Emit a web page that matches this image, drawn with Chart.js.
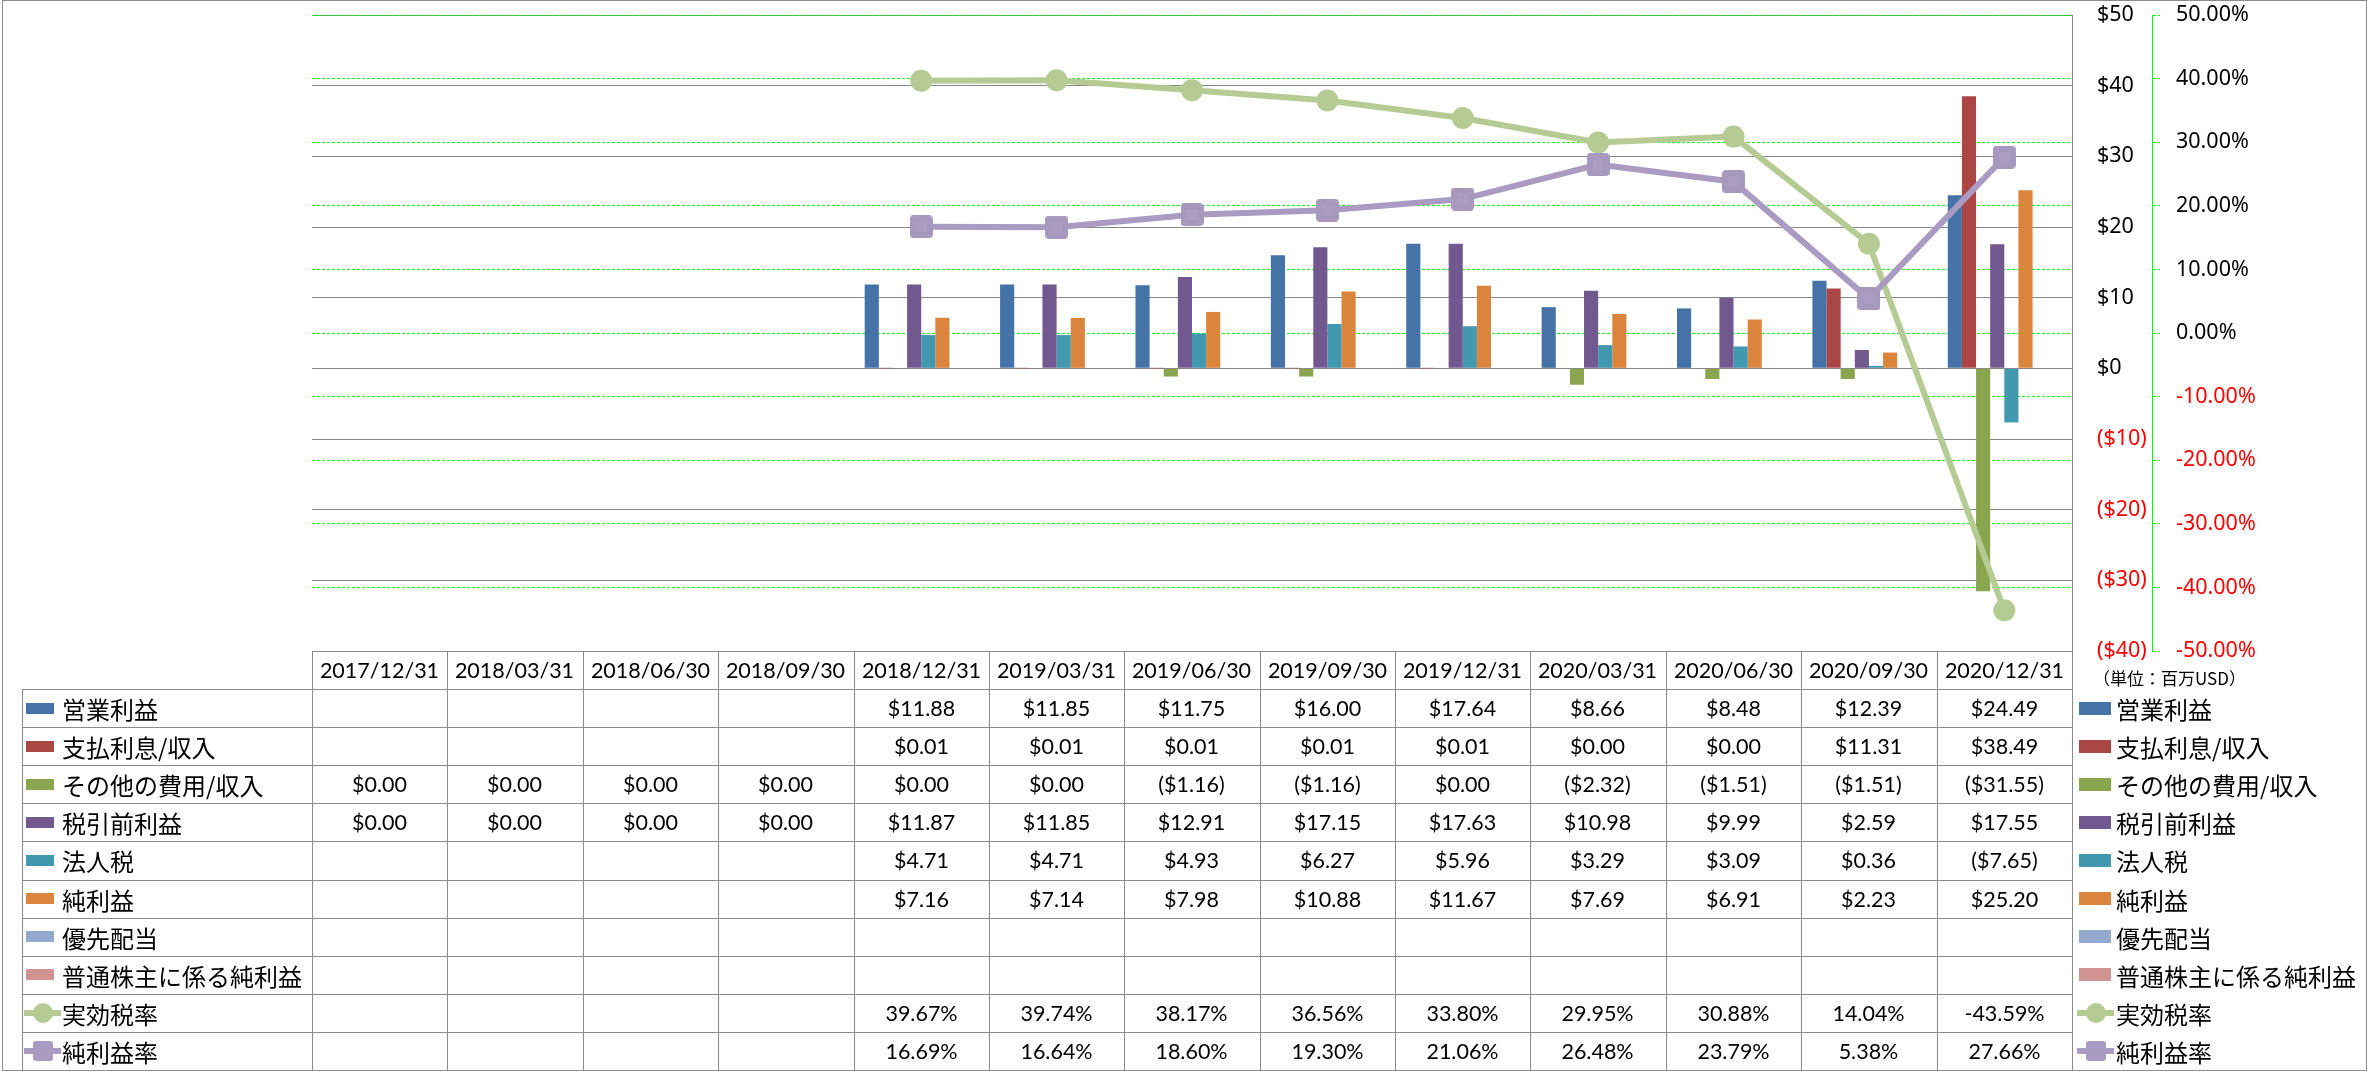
<!DOCTYPE html>
<html lang="ja">
<head>
<meta charset="utf-8">
<title>損益推移</title>
<script src="https://cdn.jsdelivr.net/npm/chart.js@4.4.1/dist/chart.umd.min.js"></script>
<style>
    html, body { margin: 0; padding: 0; background: #fff; }
    #wrap { position: relative; width: 2367px; height: 1071px; overflow: hidden; background: #fff; }
    #chart { position: absolute; left: 0; top: 0; }
    #frame { position: absolute; left: 2px; top: 0; width: 2365px; height: 1071px; border: 1px solid #8c8c8c; box-sizing: border-box; pointer-events: none; }
    .ln { position: absolute; background: #8a8a8a; }
    .txt { position: absolute; display: flex; align-items: center; white-space: nowrap; color: #000; }
    .num { justify-content: center; font-family: Lato, "Noto Sans", sans-serif; font-size: 21.5px; }
    .lab { font-family: "Noto Sans CJK JP", sans-serif; font-size: 24px; }
    .key { position: absolute; }
    #unit { position: absolute; left: 2093px; top: 666px; font-family: "Noto Sans CJK JP", sans-serif; font-size: 17px; line-height: 24px; white-space: nowrap; }
</style>
</head>
<body>
<div id="wrap">
    <canvas id="chart" width="2367" height="1071"></canvas>
    <div id="table"></div>
    <div id="unit">（単位：百万USD）</div>
    <div id="frame"></div>
</div>
<script>
// ── Data (百万USD) ───────────────────────────────────────────
const categories = ['2017/12/31', '2018/03/31', '2018/06/30', '2018/09/30', '2018/12/31', '2019/03/31',
    '2019/06/30', '2019/09/30', '2019/12/31', '2020/03/31', '2020/06/30', '2020/09/30', '2020/12/31'];

const operatingIncome    = [null, null, null, null, 11.88, 11.85, 11.75, 16.00, 17.64, 8.66, 8.48, 12.39, 24.49];
const interestExpense    = [null, null, null, null, 0.01, 0.01, 0.01, 0.01, 0.01, 0.00, 0.00, 11.31, 38.49];
const otherExpense       = [0, 0, 0, 0, 0, 0, -1.16, -1.16, 0, -2.32, -1.51, -1.51, -31.55];
const preTaxIncome       = [0, 0, 0, 0, 11.87, 11.85, 12.91, 17.15, 17.63, 10.98, 9.99, 2.59, 17.55];
const incomeTax          = [null, null, null, null, 4.71, 4.71, 4.93, 6.27, 5.96, 3.29, 3.09, 0.36, -7.65];
const netIncome          = [null, null, null, null, 7.16, 7.14, 7.98, 10.88, 11.67, 7.69, 6.91, 2.23, 25.20];
const preferredDividends = [null, null, null, null, null, null, null, null, null, null, null, null, null];
const netIncomeCommon    = [null, null, null, null, null, null, null, null, null, null, null, null, null];

// percent values
const effectiveTaxRate = [null, null, null, null, 39.67, 39.74, 38.17, 36.56, 33.80, 29.95, 30.88, 14.04, -43.59];
const netMargin        = [null, null, null, null, 16.69, 16.64, 18.60, 19.30, 21.06, 26.48, 23.79, 5.38, 27.66];

const barSeries = [
    { name: '営業利益',             values: operatingIncome,    color: '#4572a7' },
    { name: '支払利息/収入',        values: interestExpense,    color: '#aa4643' },
    { name: 'その他の費用/収入',    values: otherExpense,       color: '#89a54e' },
    { name: '税引前利益',           values: preTaxIncome,       color: '#71588f' },
    { name: '法人税',               values: incomeTax,          color: '#4198af' },
    { name: '純利益',               values: netIncome,          color: '#db843d' },
    { name: '優先配当',             values: preferredDividends, color: '#93a9cf' },
    { name: '普通株主に係る純利益', values: netIncomeCommon,    color: '#d19392' }
];
const lineSeries = [
    { name: '実効税率', values: effectiveTaxRate, color: '#b6cb94', marker: 'circle' },
    { name: '純利益率', values: netMargin,        color: '#a99bc1', marker: 'square' }
];

// ── Helpers ──────────────────────────────────────────────────
const fmtMoney = v => v == null ? '' : (v < 0 ? '($' + Math.abs(v).toFixed(2) + ')' : '$' + v.toFixed(2));
const fmtPct   = v => v == null ? '' : v.toFixed(2) + '%';

// rounded square marker for 純利益率
const squareMarker = document.createElement('canvas');
squareMarker.width = 23; squareMarker.height = 23;
(() => {
    const c = squareMarker.getContext('2d');
    c.fillStyle = '#a798be';
    c.beginPath();
    c.roundRect(0, 0, 23, 23, 4);
    c.fill();
    c.fillStyle = '#ab9dc2';
    c.fillRect(6, 6, 11, 11);
})();

// keep the plot area exactly where the padding puts it
const noScalePadding = w => s => { s.width = w; s.paddingTop = 0; s.paddingBottom = 0; };

// ── Chart ────────────────────────────────────────────────────
const tickFont = { family: 'Noto Sans', size: 21.5 };

const chart = new Chart(document.getElementById('chart'), {
    type: 'bar',
    data: {
        labels: categories,
        datasets: [
            ...barSeries.map(s => ({
                type: 'bar',
                label: s.name,
                data: s.values,
                backgroundColor: s.color,
                borderWidth: 0,
                yAxisID: 'y',
                order: 2,
                barPercentage: 1,
                categoryPercentage: 0.835
            })),
            {
                type: 'line',
                label: lineSeries[0].name,
                data: lineSeries[0].values,
                yAxisID: 'y2',
                order: 1,
                borderColor: lineSeries[0].color,
                backgroundColor: lineSeries[0].color,
                borderWidth: 6,
                tension: 0,
                pointStyle: 'circle',
                pointRadius: 11,
                pointBorderWidth: 0
            },
            {
                type: 'line',
                label: lineSeries[1].name,
                data: lineSeries[1].values,
                yAxisID: 'y2',
                order: 0,
                borderColor: lineSeries[1].color,
                backgroundColor: lineSeries[1].color,
                borderWidth: 6,
                tension: 0,
                pointStyle: squareMarker,
                pointRadius: 12
            }
        ]
    },
    options: {
        responsive: false,
        animation: false,
        layout: { autoPadding: false, padding: { left: 312, top: 15, right: 0, bottom: 420 } },
        plugins: { legend: { display: false }, tooltip: { enabled: false } },
        scales: {
            x: { display: false, offset: true, grid: { display: false } },
            y: {
                position: 'right',
                weight: 0,
                min: -40,
                max: 50,
                ticks: {
                    stepSize: 10,
                    padding: 25,
                    font: tickFont,
                    color: c => c.tick.value < 0 ? '#ff0000' : '#000000',
                    callback: v => v < 0 ? '($' + Math.abs(v) + ')' : '$' + v
                },
                grid: { color: '#878787', lineWidth: 1, drawTicks: false },
                border: { color: '#878787', width: 1 },
                afterFit: noScalePadding(80)
            },
            y2: {
                position: 'right',
                weight: 1,
                min: -50,
                max: 50,
                ticks: {
                    stepSize: 10,
                    padding: 16,
                    font: tickFont,
                    color: c => c.tick.value < 0 ? '#ff0000' : '#000000',
                    callback: v => v.toFixed(2) + '%'
                },
                grid: {
                    color: '#00ff00',
                    lineWidth: 1,
                    tickLength: 8,
                    tickColor: '#00ff00',
                    tickBorderDash: [3, 2]
                },
                border: { color: '#00ff00', width: 1, dash: [3, 2] },
                afterFit: noScalePadding(215)
            }
        }
    }
});

// ── Data table (built from the x scale) ──────────────────────
const area   = chart.chartArea;
const xScale = chart.scales.x;
const colW   = (area.right - area.left) / categories.length;
const top0   = area.bottom;
const bottom = 1070;
const rowH   = (bottom - top0) / 11;
const labelLeft = 22;
const table  = document.getElementById('table');

function add(cls, css, text) {
    const el = document.createElement('div');
    el.className = cls;
    Object.assign(el.style, css);
    if (text != null) el.textContent = text;
    table.appendChild(el);
    return el;
}
const px = v => Math.round(v) + 'px';

// horizontal rules
add('ln', { left: px(area.left), top: px(top0), width: px(area.right - area.left + 1), height: '1px' });
for (let k = 1; k <= 10; k++) {
    const y = top0 + rowH * k;
    add('ln', { left: px(labelLeft), top: px(y), width: px(area.right - labelLeft + 1), height: '1px' });
}
// vertical rules
add('ln', { left: px(labelLeft), top: px(top0 + rowH), width: '1px', height: px(bottom - top0 - rowH) });
for (let j = 0; j <= categories.length; j++) {
    add('ln', { left: px(area.left + colW * j), top: px(top0), width: '1px', height: px(bottom - top0) });
}

// header: category labels
categories.forEach((c, i) => {
    const cx = xScale.getPixelForValue(i);
    add('txt num', { left: px(cx - colW / 2), top: px(top0), width: px(colW), height: px(rowH) }, c);
});

// series rows
function addKey(series, left, y, isLine, big) {
    const cy = y + rowH / 2;
    if (!isLine) {
        const w = big ? 32 : 28, h = big ? 13 : 11;
        add('key', { left: px(left), top: px(cy - h / 2), width: w + 'px', height: h + 'px', background: series.color });
        return;
    }
    add('key', { left: px(left - 2), top: px(cy - 3), width: '37px', height: '6px', background: series.color });
    const m = 20;
    add('key', {
        left: px(left + 16.5 - m / 2), top: px(cy - m / 2), width: m + 'px', height: m + 'px',
        background: series.color, borderRadius: series.marker === 'circle' ? '50%' : '3px'
    });
}

const rows = [
    ...barSeries.map(s => ({ series: s, isLine: false, fmt: fmtMoney })),
    ...lineSeries.map(s => ({ series: s, isLine: true, fmt: fmtPct }))
];
rows.forEach((r, k) => {
    const y = top0 + rowH * (k + 1);
    // left legend cell
    addKey(r.series, 26, y, r.isLine, false);
    add('txt lab', { left: '62px', top: px(y), height: px(rowH) }, r.series.name);
    // values
    r.series.values.forEach((v, i) => {
        const cx = xScale.getPixelForValue(i);
        add('txt num', { left: px(cx - colW / 2), top: px(y), width: px(colW), height: px(rowH) }, r.fmt(v));
    });
    // right legend
    addKey(r.series, 2079, y, r.isLine, true);
    add('txt lab', { left: '2116px', top: px(y), height: px(rowH) }, r.series.name);
});
</script>
</body>
</html>
